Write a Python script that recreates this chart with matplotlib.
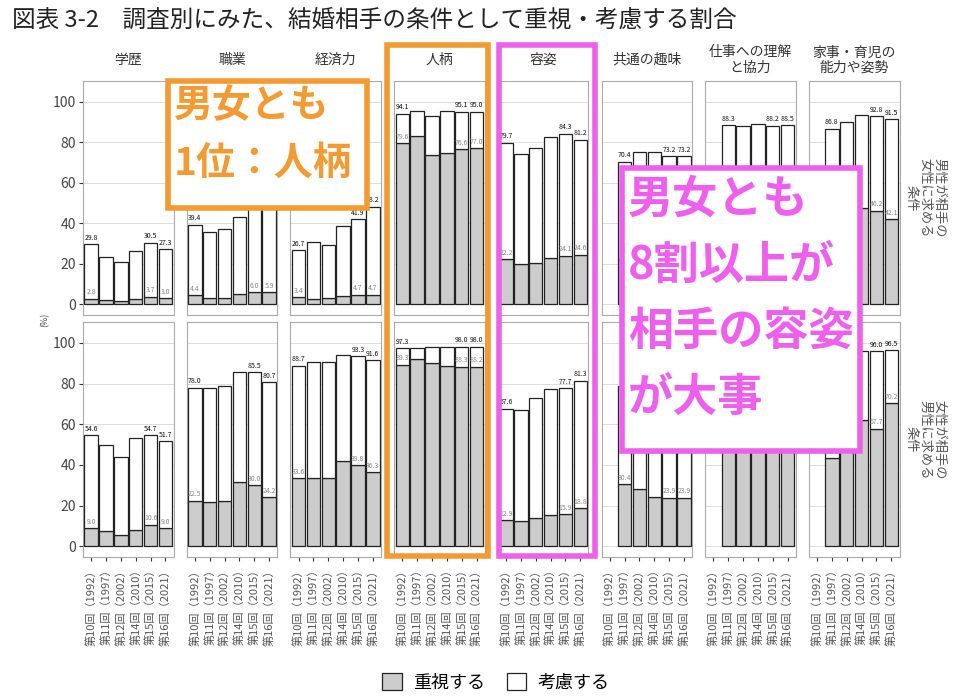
import matplotlib.pyplot as plt
import numpy as np
from matplotlib.patches import Patch, Rectangle

plt.rcParams['font.family'] = ['Noto Sans CJK JP', 'DejaVu Sans']

# 調査回
rounds = ['第10回（1992）', '第11回（1997）', '第12回（2002）',
          '第14回（2010）', '第15回（2015）', '第16回（2021）']
conditions = ['学歴', '職業', '経済力', '人柄', '容姿', '共通の趣味',
              '仕事への理解\nと協力', '家事・育児の\n能力や姿勢']
row_labels = ['男性が相手の\n女性に求める\n条件', '女性が相手の\n男性に求める\n条件']
nan = np.nan

# 男性が女性に求める条件: 重視する + 考慮する の合計
men_total = [
    [29.8, 23.5, 21.0, 26.5, 30.5, 27.3],
    [39.4, 35.8, 37.0, 43.2, 48.4, 48.1],
    [26.7, 30.6, 29.3, 38.6, 41.9, 48.2],
    [94.1, 95.6, 93.1, 95.4, 95.1, 95.0],
    [79.7, 74.2, 77.0, 82.7, 84.3, 81.2],
    [nan, 70.4, 75.3, 75.4, 73.2, 73.2],
    [nan, 88.3, 87.9, 89.0, 88.2, 88.5],
    [nan, 86.8, 90.1, 93.3, 92.8, 91.5],
]
# 男性が女性に求める条件: 重視する
men_main = [
    [2.8, 2.3, 1.9, 2.8, 3.7, 3.0],
    [4.4, 3.2, 3.3, 5.0, 6.0, 5.9],
    [3.4, 2.7, 3.0, 4.0, 4.7, 4.7],
    [79.6, 83.1, 73.7, 74.5, 76.6, 77.0],
    [22.2, 19.7, 20.2, 23.0, 24.1, 24.6],
    [nan, 22.2, 21.0, 18.5, 19.3, 19.0],
    [nan, 31.5, 32.0, 33.9, 35.7, 37.7],
    [nan, 39.9, 43.5, 47.4, 46.2, 42.1],
]
# 女性が男性に求める条件: 合計
women_total = [
    [54.6, 49.7, 43.9, 53.3, 54.7, 51.7],
    [78.0, 77.8, 79.0, 85.7, 85.5, 80.7],
    [88.7, 90.7, 90.7, 94.0, 93.3, 91.6],
    [97.3, 97.6, 98.1, 98.1, 98.0, 98.0],
    [67.6, 67.2, 73.1, 77.1, 77.7, 81.3],
    [nan, 78.9, 79.5, 78.7, 76.5, 76.0],
    [nan, 91.5, 92.2, 93.4, 93.2, 94.2],
    [nan, 90.8, 93.4, 96.1, 96.0, 96.5],
]
# 女性が男性に求める条件: 重視する
women_main = [
    [9.0, 7.5, 5.7, 8.2, 10.6, 9.0],
    [22.5, 21.6, 22.5, 31.6, 30.0, 24.2],
    [33.6, 33.4, 33.8, 42.0, 39.8, 36.3],
    [89.3, 92.1, 90.2, 88.5, 88.3, 88.2],
    [12.9, 12.5, 14.1, 15.4, 15.9, 18.8],
    [nan, 30.4, 28.2, 24.3, 23.9, 23.9],
    [nan, 48.5, 49.8, 54.0, 52.6, 55.8],
    [nan, 43.4, 50.5, 62.3, 57.7, 70.2],
]

W, H = 972, 700
fig = plt.figure(figsize=(W / 100, H / 100), dpi=100)


def fx(px):
    return px / W


def fy(py):
    return 1 - py / H


# 注釈の箱 (ピクセル, 左上原点)
boxes = [(168, 81, 367, 208), (622, 168, 860, 451)]


def hidden(ax, xv, yv):
    # 注釈の箱の下に隠れるラベルは描かない
    px, py = ax.transData.transform((xv, yv))
    py = H - py
    return any(x0 < px < x1 and y0 < py - 4 < y1 for x0, y0, x1, y1 in boxes)


fig.text(fx(12), fy(20), '図表 3-2　調査別にみた、結婚相手の条件として重視・考慮する割合',
         fontsize=17, va='center', ha='left', color='#222222')

rows = [(men_total, men_main, 81, 315), (women_total, women_main, 322, 557)]
x = np.arange(1, 7)
gray = '#CCCCCC'

for r, (totals, mains, top_px, bot_px) in enumerate(rows):
    for c in range(len(conditions)):
        left_px = 83 + c * 103.7
        ax = fig.add_axes([fx(left_px), fy(bot_px), fx(90.6), (bot_px - top_px) / H])
        tot = np.array(totals[c])
        main = np.array(mains[c])
        ok = ~np.isnan(tot)
        ax.bar(x[ok], main[ok], width=0.9, color=gray, edgecolor='#222222', linewidth=0.9, zorder=3)
        ax.bar(x[ok], (tot - main)[ok], bottom=main[ok], width=0.9, color='white',
               edgecolor='#222222', linewidth=0.9, zorder=3)
        ax.set_xlim(0.45, 6.55)
        ax.set_ylim(-5.25, 110.25)
        idx = list(np.where(ok)[0])
        for i in [idx[0], 4, 5]:
            if not hidden(ax, x[i], tot[i] + 1.2):
                ax.text(x[i], tot[i] + 1.2, f'{tot[i]:.1f}', ha='center', va='bottom',
                        fontsize=5, color='#111111', zorder=4)
            if not hidden(ax, x[i], main[i] + 1.2):
                ax.text(x[i], main[i] + 1.2, f'{main[i]:.1f}', ha='center', va='bottom',
                        fontsize=5, color='#888888', zorder=4)
        ax.set_yticks([0, 20, 40, 60, 80, 100])
        ax.grid(axis='y', color='#DDDDDD', linewidth=0.7, zorder=0)
        for s in ax.spines.values():
            s.set_color('#AAAAAA')
            s.set_linewidth(0.8)
        ax.set_xticks(x)
        if r == 1:
            ax.set_xticklabels(rounds, rotation=90, fontsize=8, color='#555555')
            ax.tick_params(axis='x', length=3, color='#333333', pad=2)
        else:
            ax.set_xticklabels([])
            ax.tick_params(axis='x', length=0)
        if c == 0:
            ax.tick_params(axis='y', labelsize=10, labelcolor='#444444', length=3,
                           color='#333333', pad=2)
        else:
            ax.set_yticklabels([])
            ax.tick_params(axis='y', length=0)
        if r == 0:
            ax.text(0.5, 1.09, conditions[c], transform=ax.transAxes, ha='center',
                    va='center', fontsize=10, color='#333333', linespacing=1.1)
    fig.text(fx(925), fy((top_px + bot_px) / 2), row_labels[r], rotation=270,
             ha='center', va='center', fontsize=9.5, color='#555555', linespacing=1.1)

fig.text(fx(45), fy(320), '(%)', rotation=90, ha='center', va='center',
         fontsize=6.5, color='#444444')

handles = [Patch(facecolor=gray, edgecolor='#222222', linewidth=0.9),
           Patch(facecolor='white', edgecolor='#222222', linewidth=0.9)]
fig.legend(handles, ['重視する', '考慮する'], loc='center', bbox_to_anchor=(0.51, 0.025),
           ncol=2, frameon=False, fontsize=13, handlelength=1.1, handleheight=1.1,
           columnspacing=1.2, handletextpad=0.6)

# 強調の枠と注釈
orange = '#F39A32'
pink = '#EE5FEE'


def frame(x0, y0, x1, y1, color, fill=False):
    rect = Rectangle((fx(x0), fy(y1)), fx(x1 - x0), (y1 - y0) / H, transform=fig.transFigure,
                     facecolor='white' if fill else 'none', edgecolor=color,
                     linewidth=4, zorder=10)
    fig.add_artist(rect)


frame(387, 45, 488, 556, orange)
frame(499, 45, 595, 556, pink)
for (x0, y0, x1, y1), col in zip(boxes, [orange, pink]):
    frame(x0, y0, x1, y1, col, fill=True)

fig.text(fx(174), fy(106), '男女とも', fontsize=28, fontweight='bold', color=orange,
         ha='left', va='center', zorder=11)
fig.text(fx(174), fy(163), '1位：人柄', fontsize=28, fontweight='bold', color=orange,
         ha='left', va='center', zorder=11)
for i, line in enumerate(['男女とも', '8割以上が', '相手の容姿', 'が大事']):
    fig.text(fx(628), fy(200 + i * 66), line, fontsize=32.5, fontweight='bold', color=pink,
             ha='left', va='center', zorder=11)

fig.savefig('out.png', dpi=100)
